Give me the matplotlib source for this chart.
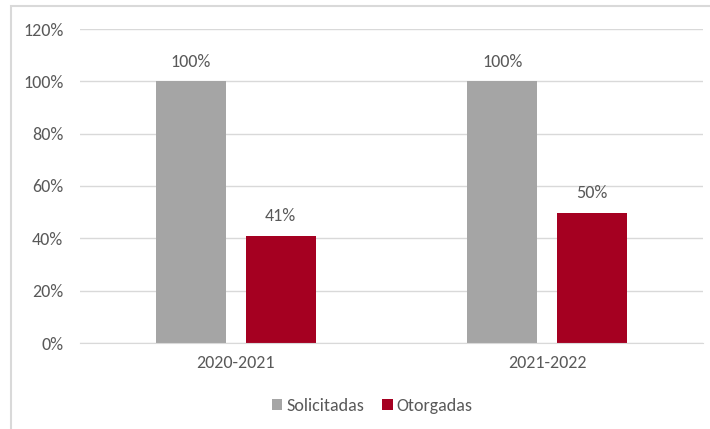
import matplotlib.pyplot as plt
import matplotlib.patches as mpatches
import numpy as np

# 数据
categories = ['2020-2021', '2021-2022']
solicitadas = [1.00, 1.00]
otorgadas = [0.41, 0.497]
series_names = ['Solicitadas', 'Otorgadas']

color_gray = '#A5A5A5'
color_red = '#A50021'
text_color = '#595959'

plt.rcParams['font.family'] = ['Carlito', 'Liberation Sans Narrow', 'DejaVu Sans']
fs = 13

W, H = 710, 429
fig = plt.figure(figsize=(W / 100, H / 100), dpi=100)
ax = fig.add_axes([80 / W, 1 - 343 / H, 623 / W, (343 - 29) / H])

x = np.arange(len(categories))
bw = 0.225
off = 0.144
b1 = ax.bar(x - off, solicitadas, bw, color=color_gray, label=series_names[0])
b2 = ax.bar(x + off, otorgadas, bw, color=color_red, label=series_names[1])

for bars in (b1, b2):
    for r in bars:
        ax.text(r.get_x() + r.get_width() / 2, r.get_height() + 0.045,
                '%d%%' % round(r.get_height() * 100), ha='center', va='bottom',
                color=text_color, fontsize=fs)

ax.set_xlim(-0.5, 1.5)
ax.set_ylim(0, 1.2)
ax.set_yticks(np.arange(0, 1.21, 0.2))
ax.set_yticklabels(['%d%%' % round(v * 100) for v in np.arange(0, 1.21, 0.2)])
ax.set_xticks(x)
ax.set_xticklabels(categories)
ax.tick_params(axis='both', length=0, colors=text_color, labelsize=fs)
ax.tick_params(axis='y', pad=12)
ax.tick_params(axis='x', pad=9)
ax.yaxis.grid(True, color='#D9D9D9', linewidth=1)
ax.set_axisbelow(True)
for s in ['top', 'right', 'left']:
    ax.spines[s].set_visible(False)
ax.spines['bottom'].set_color('#D9D9D9')

fig.legend(handles=[b1, b2], loc='center', bbox_to_anchor=(372 / W, 1 - 406 / H),
           ncol=2, frameon=False, fontsize=fs, labelcolor=text_color,
           handlelength=0.6, handleheight=0.6, handletextpad=0.2, columnspacing=1.0)

# 外框
fig.patches.append(mpatches.Rectangle((11 / W, -0.1), 1.2, 1 - 6 / H + 0.1,
                                      transform=fig.transFigure, fill=False,
                                      edgecolor='#D9D9D9', linewidth=1.5))

fig.savefig('out.png', dpi=100, facecolor='white')
